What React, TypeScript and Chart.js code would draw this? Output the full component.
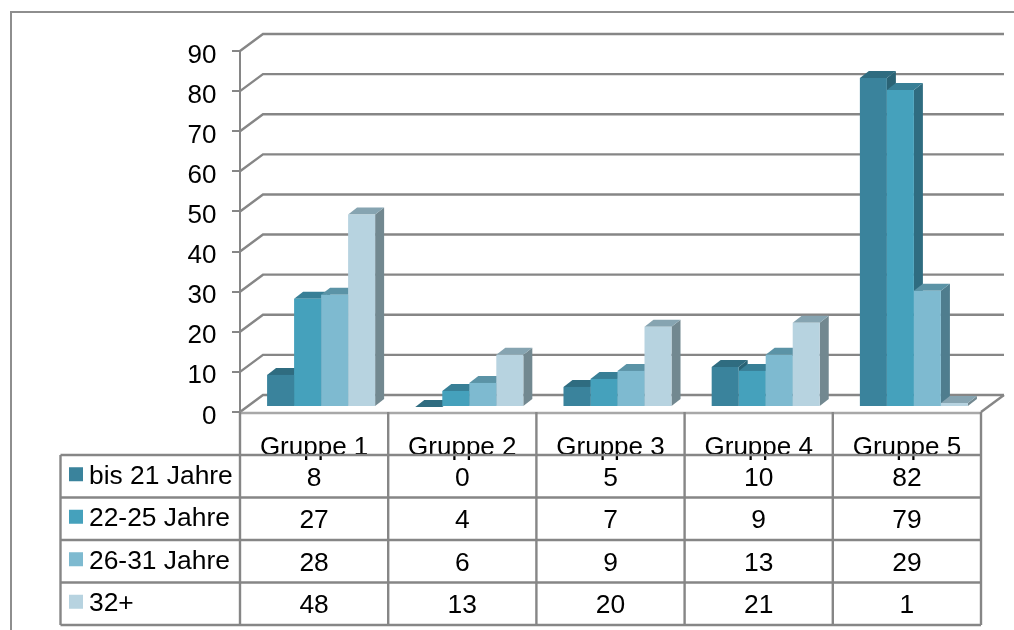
import React, { useEffect, useRef } from "react";
import { Chart, registerables } from "chart.js";

Chart.register(...registerables);

const categories = ["Gruppe 1", "Gruppe 2", "Gruppe 3", "Gruppe 4", "Gruppe 5"];
const seriesNames = ["bis 21 Jahre", "22-25 Jahre", "26-31 Jahre", "32+"];
const bis21 = [8, 0, 5, 10, 82];
const jahre22bis25 = [27, 4, 7, 9, 79];
const jahre26bis31 = [28, 6, 9, 13, 29];
const jahre32plus = [48, 13, 20, 21, 1];
const seriesValues = [bis21, jahre22bis25, jahre26bis31, jahre32plus];

const frontColors = ["#3A839C", "#45A1BC", "#7EBAD0", "#B7D3E0"];
const topColors = ["#2F6C80", "#387F96", "#5B93A6", "#86A4B1"];
const sideColors = ["#2A6375", "#2F6C80", "#4F7D8E", "#728890"];

const FONT = '"Liberation Sans", Arial, sans-serif';
const AXIS_FONT_SIZE = 26;
const TABLE_FONT_SIZE = 26.4;
const LINE = "#868686";
const LINE_WIDTH = 2.4;

// Oblique offset of the back wall relative to the front of the floor.
const WALL_DX = 23;
const WALL_DY = -17;
// Bars stand part-way into the floor and have their own, shallower depth.
const BAR_SHIFT_X = 7;
const BAR_SHIFT_Y = -5;
const BAR_DX = 9;
const BAR_DY = -7;

// Table geometry below the floor.
const TABLE_LEFT = 60.5;
const ROW_LINES = [455, 497.5, 540, 582.5, 625];
const KEY_X = 69;
const KEY_SIZE = 14;
const LABEL_X = 89;
const TICK_LABEL_RIGHT = 216.5;
const TICK_BASELINE_DROP = 11.5;

function strokeLine(ctx: CanvasRenderingContext2D, pts: number[][], color = LINE, width = LINE_WIDTH) {
  ctx.strokeStyle = color;
  ctx.lineWidth = width;
  ctx.lineJoin = "miter";
  ctx.beginPath();
  pts.forEach(([x, y], i) => (i ? ctx.lineTo(x, y) : ctx.moveTo(x, y)));
  ctx.stroke();
}

function fillPoly(ctx: CanvasRenderingContext2D, pts: number[][], color: string) {
  ctx.fillStyle = color;
  ctx.beginPath();
  pts.forEach(([x, y], i) => (i ? ctx.lineTo(x, y) : ctx.moveTo(x, y)));
  ctx.closePath();
  ctx.fill();
}

// Draws the frame, the receding grid lines and the bars' sides and tops;
// the library then paints the bar fronts over them, moved onto the floor.
const wallPlugin = {
  id: "wall",
  beforeDatasetsDraw(chart: any) {
    const { ctx, scales, chartArea } = chart;
    const y = scales.y;
    ctx.save();
    strokeLine(ctx, [[11, 630], [11, 12], [1014, 12]], "#8E8E8E", 2);
    y.ticks.forEach((t: any) => {
      const py = y.getPixelForValue(t.value);
      strokeLine(ctx, [
        [chartArea.left, py],
        [chartArea.left + WALL_DX, py + WALL_DY],
        [chartArea.right + WALL_DX, py + WALL_DY],
      ]);
      ctx.fillStyle = "#000";
      ctx.font = `${AXIS_FONT_SIZE}px ${FONT}`;
      ctx.textAlign = "right";
      ctx.textBaseline = "alphabetic";
      ctx.fillText(String(t.value), TICK_LABEL_RIGHT, py + TICK_BASELINE_DROP);
    });
    const floor = y.getPixelForValue(0);
    strokeLine(ctx, [
      [chartArea.right, floor],
      [chartArea.right + WALL_DX, floor + WALL_DY],
    ]);
    strokeLine(ctx, [[chartArea.left, floor + 1], [chartArea.right, floor + 1]], "#A8A8A8", 2.4);
    ctx.restore();
    ctx.save();
    ctx.translate(BAR_SHIFT_X, BAR_SHIFT_Y);
    seriesNames.forEach((_, i) => {
      // Left to right, so that a bar's top lies over its left neighbour's side.
      chart.getDatasetMeta(i).data.forEach((bar: any) => {
        const { x, y: top, base, width } = bar.getProps(["x", "y", "base", "width"], true);
        const l = x - width / 2;
        const r = x + width / 2;
        fillPoly(ctx, [[r, top], [r + BAR_DX, top + BAR_DY], [r + BAR_DX, base + BAR_DY], [r, base]], sideColors[i]);
        fillPoly(ctx, [[l, top], [l + BAR_DX, top + BAR_DY], [r + BAR_DX, top + BAR_DY], [r, top]], topColors[i]);
      });
    });
  },
  afterDatasetsDraw(chart: any) {
    chart.ctx.restore();
  },
};

// Data table under the plot, with the series keys in its first column.
const tablePlugin = {
  id: "table",
  afterDraw(chart: any) {
    const { ctx, scales, chartArea } = chart;
    const x = scales.x;
    const cell = (chartArea.right - chartArea.left) / categories.length;
    ctx.save();
    ROW_LINES.forEach((ry) => strokeLine(ctx, [[TABLE_LEFT, ry], [chartArea.right, ry]]));
    strokeLine(ctx, [[TABLE_LEFT, ROW_LINES[0]], [TABLE_LEFT, ROW_LINES[4]]]);
    for (let c = 0; c <= categories.length; c++) {
      const vx = chartArea.left + c * cell;
      strokeLine(ctx, [[vx, chartArea.bottom], [vx, ROW_LINES[4]]]);
    }
    ctx.font = `${TABLE_FONT_SIZE}px ${FONT}`;
    ctx.textBaseline = "middle";
    seriesNames.forEach((name, s) => {
      const mid = (ROW_LINES[s] + ROW_LINES[s + 1]) / 2;
      ctx.fillStyle = frontColors[s];
      ctx.fillRect(KEY_X, mid - KEY_SIZE / 2 - 2, KEY_SIZE, KEY_SIZE);
      ctx.fillStyle = "#000";
      ctx.textAlign = "left";
      ctx.fillText(name, LABEL_X, mid);
      ctx.textAlign = "center";
      seriesValues[s].forEach((v, c) => {
        ctx.fillText(String(v), x.getPixelForValue(c), mid + 2);
      });
    });
    ctx.restore();
  },
};

export default function App() {
  const ref = useRef<HTMLCanvasElement>(null);
  useEffect(() => {
    const chart = new Chart(ref.current!, {
      type: "bar",
      data: {
        labels: categories,
        datasets: seriesNames.map((name, i) => ({
          label: name,
          data: seriesValues[i],
          backgroundColor: frontColors[i],
          borderWidth: 0,
          clip: false as any,
          categoryPercentage: 0.729,
          barPercentage: 1,
        })),
      },
      options: {
        animation: false,
        responsive: false,
        events: [],
        layout: { padding: { left: 0, top: 51, right: 33, bottom: 168 } },
        plugins: { legend: { display: false }, tooltip: { enabled: false } },
        scales: {
          x: {
            afterFit: (a: any) => { a.height = 50; },
            grid: { display: false },
            border: { display: false },
            ticks: {
              color: "#000",
              maxRotation: 0,
              padding: 12,
              font: { family: FONT, size: AXIS_FONT_SIZE },
            },
          },
          y: {
            min: 0,
            max: 90,
            afterFit: (a: any) => { a.width = 240; },
            grid: { drawOnChartArea: false, color: LINE, lineWidth: 2, tickLength: 8 },
            border: { display: true, color: LINE, width: 2 },
            // Labels are set by the wall plugin, which sits them just below each tick.
            ticks: { stepSize: 10, display: false },
          },
        },
      },
      plugins: [wallPlugin, tablePlugin],
    });
    return () => chart.destroy();
  }, []);
  return (
    <div style={{ position: "fixed", left: 0, top: 0 }}>
      <canvas ref={ref} width={1014} height={630} style={{ display: "block" }} />
    </div>
  );
}
